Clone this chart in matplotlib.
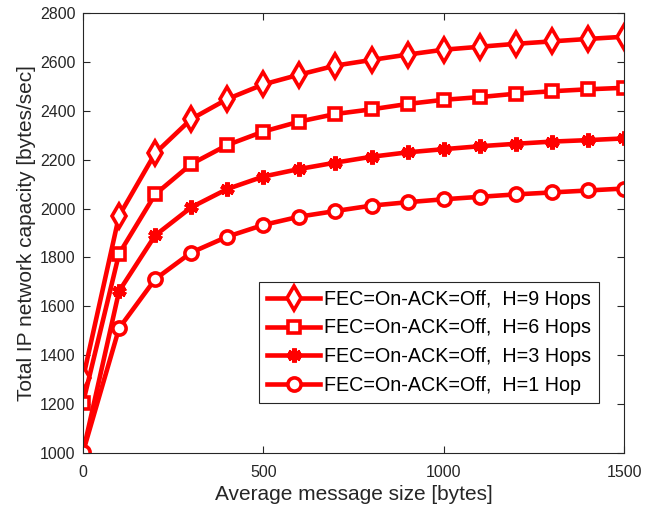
import matplotlib
matplotlib.use("Agg")
import matplotlib.pyplot as plt

x = [0, 100, 200, 300, 400, 500, 600, 700, 800, 900, 1000, 1100, 1200, 1300, 1400, 1500]
h9 = [1305, 1970, 2226, 2366, 2448, 2508, 2548, 2585, 2608, 2630, 2650, 2662, 2674, 2684, 2694, 2703]
h6 = [1205, 1815, 2058, 2182, 2260, 2315, 2356, 2387, 2406, 2428, 2445, 2456, 2470, 2480, 2488, 2494]
h3 = [1003, 1662, 1890, 2005, 2080, 2131, 2162, 2188, 2212, 2230, 2243, 2255, 2265, 2274, 2280, 2287]
h1 = [1003, 1510, 1711, 1820, 1885, 1933, 1967, 1990, 2012, 2026, 2038, 2048, 2058, 2066, 2074, 2082]
labels = ["FEC=On-ACK=Off,  H=9 Hops", "FEC=On-ACK=Off,  H=6 Hops",
          "FEC=On-ACK=Off,  H=3 Hops", "FEC=On-ACK=Off,  H=1 Hop"]

plt.rcParams['font.family'] = ['Liberation Sans', 'DejaVu Sans']
fig = plt.figure(figsize=(6.57, 5.17), dpi=100)
ax = fig.add_axes([0.1263, 0.1238, 0.8235, 0.851])

red = '#ff0000'
common = dict(color=red, lw=3.3, mfc='white', mec=red, mew=2.6)
ax.plot(x, h9, marker='d', ms=12, label=labels[0], **common)
ax.plot(x, h6, marker='s', ms=8, label=labels[1], **common)
ax.plot(x, h3, marker=(6, 2, 0), ms=10, label=labels[2], **{**common, 'mew': 3.5})
ax.plot(x, h1, marker='o', ms=9.5, label=labels[3], **common)

ax.set_xlim(0, 1500)
ax.set_ylim(1000, 2800)
ax.set_xticks([0, 500, 1000, 1500])
ax.set_yticks(range(1000, 2801, 200))
gray = '#262626'
ax.tick_params(direction='in', top=True, right=True, length=5, width=0.8,
               labelsize=11.5, colors=gray, labelcolor=gray)
ax.tick_params(axis='x', pad=9)
ax.tick_params(axis='y', pad=5.5)
for s in ax.spines.values():
    s.set_color(gray)
    s.set_linewidth(0.8)
ax.set_xlabel('Average message size [bytes]', fontsize=15, color=gray, labelpad=3)
ax.set_ylabel('Total IP network capacity [bytes/sec]', fontsize=15, color=gray, labelpad=3)

leg = ax.legend(loc='lower right', bbox_to_anchor=(0.954, 0.1136), fontsize=14.2,
                fancybox=False, framealpha=1, edgecolor=gray, handlelength=2.7,
                borderpad=0.4, labelspacing=0.5, handletextpad=0.2, borderaxespad=0)
leg.get_frame().set_linewidth(0.8)

fig.savefig('out.png', dpi=100)
